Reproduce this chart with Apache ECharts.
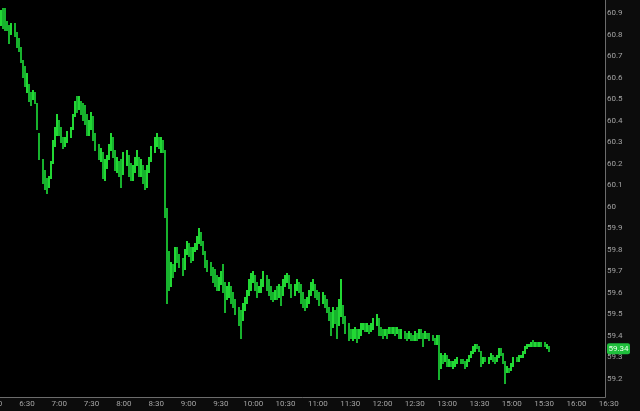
<!DOCTYPE html>
<html><head><meta charset="utf-8">
<script src="https://cdn.jsdelivr.net/npm/echarts@6/dist/echarts.min.js"></script>
<style>html,body{margin:0;padding:0;background:#000;}#c{width:640px;height:411px;}</style>
</head><body><div id="c"></div>
<script>
// OHLC values, one bar per 2-minute slot starting 6:06
const opens = [60.86,60.89,60.86,60.84,60.82,60.80,60.84,60.80,60.76,60.73,60.67,60.62,60.58,60.56,60.52,60.50,60.53,60.48,60.34,60.22,
60.13,60.10,60.09,60.13,60.20,60.28,60.34,60.40,60.35,60.32,60.28,60.31,60.33,60.36,60.42,60.47,60.45,60.49,60.45,60.43,
60.40,60.36,60.38,60.42,60.34,60.28,60.24,60.25,60.17,60.19,60.22,60.27,60.32,60.25,60.19,60.20,60.16,60.15,60.22,60.24,
60.17,60.15,60.17,60.21,60.23,60.16,60.19,60.13,60.11,60.16,60.21,60.26,60.30,60.32,60.29,60.31,60.26,59.97,59.70,59.66,
59.71,59.71,59.78,59.76,59.73,59.71,59.78,59.82,59.79,59.76,59.79,59.82,59.85,59.88,59.84,59.79,59.74,59.72,59.70,59.67,
59.66,59.63,59.65,59.67,59.62,59.58,59.60,59.62,59.57,59.55,59.52,59.48,59.47,59.52,59.56,59.59,59.64,59.66,59.68,59.63,
59.60,59.62,59.65,59.68,59.64,59.61,59.59,59.57,59.60,59.59,59.62,59.60,59.64,59.66,59.67,59.64,59.60,59.62,59.65,59.62,
59.57,59.55,59.53,59.56,59.59,59.63,59.64,59.60,59.58,59.56,59.58,59.55,59.53,59.49,59.44,59.50,59.48,59.45,59.50,59.53,
59.48,59.43,59.41,59.40,59.41,59.42,59.39,59.42,59.44,59.45,59.44,59.45,59.43,59.45,59.46,59.48,59.42,59.41,59.40,59.42,
59.41,59.43,59.42,59.43,59.41,59.43,59.40,59.41,59.40,59.39,59.41,59.39,59.38,59.41,59.39,59.42,59.40,59.39,59.41,59.40,
59.39,59.38,59.37,59.39,59.27,59.29,59.28,59.31,59.27,59.28,59.26,59.27,59.28,59.29,59.28,59.27,59.26,59.28,59.30,59.32,
59.34,59.35,59.34,59.33,59.28,59.29,59.28,59.29,59.31,59.29,59.28,59.30,59.33,59.32,59.28,59.24,59.25,59.24,59.26,59.29,
59.28,59.30,59.31,59.32,59.34,59.35,59.36,59.37,59.36,59.37,59.36,59.37,59.36,59.35,59.35];
const closes = [60.89,60.86,60.84,60.83,60.79,60.84,60.81,60.76,60.73,60.68,60.62,60.58,60.60,60.52,60.49,60.53,60.49,60.38,60.25,60.13,
60.10,60.09,60.12,60.19,60.28,60.34,60.40,60.35,60.32,60.28,60.31,60.34,60.36,60.42,60.47,60.45,60.49,60.45,60.42,60.40,
60.36,60.38,60.42,60.34,60.28,60.24,60.25,60.17,60.19,60.22,60.27,60.32,60.25,60.19,60.20,60.16,60.14,60.22,60.24,60.17,
60.15,60.17,60.21,60.23,60.16,60.19,60.13,60.11,60.16,60.21,60.26,60.30,60.32,60.29,60.31,60.27,59.97,59.70,59.66,59.71,
59.69,59.78,59.76,59.73,59.70,59.78,59.82,59.79,59.76,59.79,59.82,59.85,59.88,59.84,59.79,59.74,59.72,59.70,59.67,59.66,
59.63,59.65,59.67,59.62,59.58,59.60,59.62,59.57,59.55,59.52,59.48,59.47,59.52,59.56,59.59,59.64,59.66,59.68,59.63,59.60,
59.62,59.65,59.68,59.64,59.61,59.59,59.57,59.60,59.59,59.62,59.60,59.64,59.66,59.67,59.64,59.60,59.62,59.65,59.62,59.57,
59.55,59.53,59.56,59.59,59.63,59.64,59.60,59.58,59.56,59.58,59.55,59.53,59.49,59.44,59.50,59.48,59.45,59.50,59.55,59.48,
59.43,59.41,59.40,59.41,59.42,59.39,59.42,59.44,59.45,59.44,59.45,59.43,59.45,59.46,59.48,59.42,59.41,59.40,59.42,59.41,
59.43,59.42,59.43,59.41,59.43,59.40,59.41,59.40,59.39,59.41,59.39,59.38,59.41,59.39,59.42,59.40,59.39,59.41,59.40,59.39,
59.38,59.37,59.39,59.27,59.29,59.28,59.31,59.27,59.28,59.26,59.27,59.28,59.29,59.28,59.27,59.26,59.28,59.30,59.32,59.34,
59.35,59.34,59.33,59.28,59.29,59.28,59.29,59.31,59.29,59.28,59.30,59.33,59.32,59.28,59.24,59.25,59.24,59.26,59.29,59.28,
59.30,59.31,59.32,59.34,59.35,59.36,59.37,59.36,59.37,59.36,59.37,59.36,59.35,59.35,59.34];
const lows = [60.84,60.83,60.82,60.82,60.76,60.80,60.79,60.74,60.72,60.67,60.60,60.56,60.53,60.49,60.47,60.50,60.48,60.36,60.22,60.11,
60.08,60.06,60.09,60.13,60.20,60.28,60.33,60.33,60.30,60.27,60.28,60.30,60.32,60.36,60.42,60.44,60.45,60.43,60.40,60.38,
60.33,60.33,60.36,60.31,60.26,60.22,60.21,60.13,60.12,60.18,60.22,60.26,60.23,60.17,60.16,60.14,60.09,60.15,60.19,60.14,
60.12,60.12,60.16,60.19,60.14,60.14,60.11,60.08,60.09,60.16,60.21,60.25,60.28,60.27,60.25,60.25,59.95,59.55,59.61,59.63,
59.67,59.70,59.74,59.72,59.68,59.71,59.78,59.77,59.74,59.75,59.79,59.80,59.83,59.82,59.78,59.72,59.70,59.68,59.65,59.63,
59.61,59.61,59.64,59.60,59.51,59.57,59.58,59.55,59.53,59.50,59.45,59.39,59.47,59.52,59.55,59.59,59.61,59.65,59.61,59.58,
59.60,59.60,59.63,59.61,59.59,59.57,59.56,59.57,59.57,59.58,59.54,59.59,59.63,59.65,59.62,59.58,59.59,59.61,59.60,59.55,
59.53,59.52,59.53,59.55,59.59,59.61,59.58,59.57,59.54,59.55,59.53,59.51,59.47,59.40,59.44,59.46,59.39,59.45,59.49,59.46,
59.41,59.38,59.39,59.38,59.39,59.37,59.39,59.40,59.43,59.42,59.42,59.41,59.42,59.43,59.45,59.40,59.40,59.39,59.40,59.39,
59.41,59.41,59.41,59.40,59.41,59.39,59.39,59.39,59.38,59.39,59.38,59.38,59.38,59.38,59.39,59.39,59.35,59.39,59.39,59.38,
59.38,59.36,59.36,59.20,59.25,59.27,59.28,59.26,59.26,59.26,59.25,59.26,59.27,59.27,59.27,59.25,59.26,59.28,59.30,59.32,
59.33,59.34,59.33,59.26,59.27,59.28,59.27,59.29,59.28,59.27,59.28,59.30,59.31,59.27,59.18,59.23,59.23,59.24,59.26,59.28,
59.28,59.30,59.30,59.32,59.34,59.35,59.35,59.35,59.35,59.35,59.35,59.35,59.35,59.34,59.33];
const highs = [60.91,60.92,60.92,60.86,60.84,60.85,60.85,60.81,60.78,60.74,60.68,60.65,60.62,60.57,60.53,60.54,60.53,60.48,60.34,60.22,
60.17,60.13,60.14,60.21,60.31,60.37,60.43,60.40,60.37,60.32,60.32,60.35,60.37,60.43,60.49,60.51,60.51,60.49,60.48,60.47,
60.43,60.40,60.44,60.42,60.34,60.29,60.27,60.25,60.22,60.24,60.29,60.34,60.32,60.26,60.23,60.21,60.22,60.25,60.26,60.24,
60.20,60.19,60.23,60.26,60.23,60.22,60.19,60.17,60.19,60.23,60.28,60.32,60.34,60.32,60.32,60.31,60.26,59.99,59.79,59.74,
59.73,59.81,59.81,59.78,59.76,59.80,59.84,59.83,59.81,59.81,59.83,59.86,59.90,59.88,59.84,59.79,59.75,59.74,59.72,59.71,
59.68,59.67,59.70,59.73,59.65,59.63,59.65,59.63,59.60,59.57,59.53,59.52,59.55,59.58,59.61,59.66,59.69,59.70,59.68,59.65,
59.63,59.66,59.70,59.68,59.66,59.63,59.60,59.61,59.63,59.64,59.63,59.66,59.68,59.69,59.68,59.64,59.64,59.66,59.65,59.64,
59.60,59.57,59.58,59.61,59.65,59.66,59.64,59.61,59.60,59.60,59.59,59.57,59.53,59.51,59.53,59.52,59.53,59.57,59.66,59.54,
59.49,59.46,59.43,59.43,59.44,59.43,59.43,59.46,59.46,59.46,59.46,59.45,59.46,59.48,59.50,59.48,59.44,59.43,59.43,59.43,
59.44,59.44,59.44,59.44,59.44,59.43,59.43,59.42,59.41,59.42,59.41,59.40,59.42,59.41,59.43,59.43,59.41,59.42,59.41,59.41,
59.40,59.39,59.40,59.40,59.32,59.31,59.32,59.31,59.29,59.28,59.28,59.29,59.30,59.29,59.29,59.28,59.29,59.31,59.33,59.35,
59.36,59.36,59.35,59.33,59.30,59.30,59.30,59.32,59.31,59.30,59.31,59.34,59.34,59.32,59.28,59.26,59.25,59.27,59.30,59.30,
59.31,59.31,59.33,59.35,59.36,59.36,59.37,59.38,59.37,59.37,59.37,59.37,59.37,59.36,59.35];
const tickLabels = ['6:00','6:30','7:00','7:30','8:00','8:30','9:00','9:30','10:00','10:30','11:00','11:30','12:00','12:30','13:00','13:30','15:00','15:30','16:00','16:30'];
const lastPrice = 59.34;
const firstSlot = 3;      // first bar at 6:06
const slotCount = 300;    // 2-minute slots from 6:00

function slotLabel(j) {
  const m = j < 240 ? 360 + 2 * j : 900 + 2 * (j - 240);
  const h = Math.floor(m / 60), mm = m % 60;
  return h + ':' + (mm < 10 ? '0' : '') + mm;
}
const categories = [];
for (let j = 0; j < slotCount; j++) categories.push(slotLabel(j));
const ohlc = opens.map((o, i) => [i + firstSlot, o, closes[i], lows[i], highs[i]]);

const UP = '#22d834', DOWN = '#17b22d';

function renderOHLC(params, api) {
  const x = api.value(0);
  const o = api.value(1), c = api.value(2), l = api.value(3), h = api.value(4);
  const pH = api.coord([x, h]), pL = api.coord([x, l]);
  // 2px-wide bar aligned to even pixel columns
  const x0 = 2 * Math.round((pH[0] - 1) / 2);
  const yT = Math.floor(pH[1]), yB = Math.ceil(pL[1]);
  const col = c >= o ? UP : DOWN;
  return {
    type: 'rect',
    shape: {x: x0, y: yT, width: 2, height: Math.max(2, yB - yT)},
    style: {fill: col, stroke: null}
  };
}

const chart = echarts.init(document.getElementById('c'), null, {renderer: 'canvas'});
const option = {
  backgroundColor: '#000',
  animation: false,
  grid: {left: -6.47, right: 0, top: -8.53, bottom: 10.47, containLabel: false, outerBoundsMode: 'none'},
  xAxis: {
    type: 'category', data: categories, boundaryGap: true, offset: -3.53,
    axisLine: {show: false}, axisTick: {show: false}, splitLine: {show: false},
    axisLabel: {
      interval: (i, v) => tickLabels.includes(v),
      color: '#a4a4a4', fontSize: 8, fontFamily: 'Roboto', margin: 3
    }
  },
  yAxis: {
    type: 'value', position: 'right', min: 59.1, max: 61.0, interval: 0.1, offset: -35,
    axisLine: {show: false}, axisTick: {show: false}, splitLine: {show: false},
    axisLabel: {
      margin: 2, color: '#a4a4a4', fontSize: 8, fontFamily: 'Roboto',
      formatter: v => (v < 59.15 || v > 60.95) ? '' : String(parseFloat(v.toFixed(1)))
    }
  },
  series: [{
    type: 'custom', data: ohlc, encode: {x: 0, y: [1, 2, 3, 4]},
    renderItem: renderOHLC
  }]
};
chart.setOption(option);
const py = chart.convertToPixel({yAxisIndex: 0}, lastPrice);
chart.setOption({
  graphic: [
    {type: 'rect', z: -10, silent: true, shape: {x: 605, y: 0, width: 35, height: 411}, style: {fill: '#0c0c0c'}},
    {type: 'rect', z: -10, silent: true, shape: {x: 0, y: 397, width: 605, height: 14}, style: {fill: '#0c0c0c'}},
    {type: 'line', z: 5, silent: true, shape: {x1: 605.5, y1: 0, x2: 605.5, y2: 397.5}, style: {stroke: '#6c6c6c', lineWidth: 1}},
    {type: 'line', z: 5, silent: true, shape: {x1: 0, y1: 397.5, x2: 605.5, y2: 397.5}, style: {stroke: '#6c6c6c', lineWidth: 1}},
    {type: 'rect', z: 20, silent: true, shape: {x: 607, y: py - 5.5, width: 23, height: 11, r: 2}, style: {fill: '#1fbf3c'}},
    {type: 'text', z: 21, silent: true, x: 618.5, y: py, style: {text: String(lastPrice), fill: '#eaffea', font: '8px Roboto', align: 'center', verticalAlign: 'middle'}}
  ]
});
</script></body></html>
